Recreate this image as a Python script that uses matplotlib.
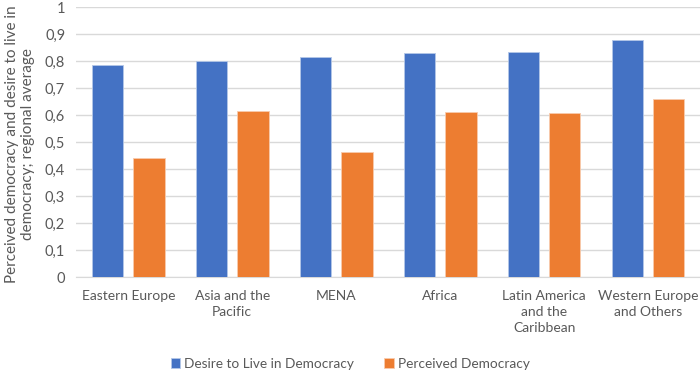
import numpy as np
import matplotlib
matplotlib.use('Agg')
import matplotlib.pyplot as plt
from matplotlib.ticker import FuncFormatter

categories = ['Eastern Europe', 'Asia and the\nPacific', 'MENA', 'Africa',
              'Latin America\nand the\nCaribbean', 'Western Europe\nand Others']
desire = [0.785, 0.801, 0.814, 0.829, 0.833, 0.877]
perceived = [0.443, 0.616, 0.464, 0.612, 0.608, 0.661]

plt.rcParams['font.family'] = ['Lato', 'DejaVu Sans']
grey = '#595959'

fig = plt.figure(figsize=(7, 3.74), dpi=100)
ax = fig.add_axes([0.109, 0.259, 0.891, 0.722])

x = np.arange(len(categories))
w = 0.3
ax.bar(x - 0.2, desire, w, color='#4472c4', edgecolor='#b4c7e7', linewidth=0.6,
       label='Desire to Live in Democracy', zorder=3)
ax.bar(x + 0.2, perceived, w, color='#ed7d31', edgecolor='#f8cbad', linewidth=0.6,
       label='Perceived Democracy', zorder=3)

ax.set_xlim(-0.5, len(categories) - 0.5)
ax.set_ylim(0, 1)
ax.set_yticks(np.arange(0, 1.01, 0.1))
ax.yaxis.set_major_formatter(FuncFormatter(lambda v, p: ('%.1f' % v).replace('.', ',') if 0 < v < 1 else '%d' % round(v)))
ax.grid(axis='y', color='#d9d9d9', linewidth=1, zorder=0)
ax.set_xticks(x)
ax.set_xticklabels(categories, color=grey, fontsize=10, linespacing=1.4)
ax.tick_params(axis='y', colors=grey, labelsize=10.5, length=0, pad=8)
ax.tick_params(axis='x', length=0, pad=9)
for s in ['top', 'right', 'left']:
    ax.spines[s].set_visible(False)
ax.spines['bottom'].set_color('#d9d9d9')

# y label placed by hand so both lines fit at the left edge
fig.text(0.029, 0.615, 'Perceived democracy and desire to live in\ndemocracy; regional average',
         rotation=90, ha='center', va='center', color=grey, fontsize=11,
         linespacing=1.2)

fig.legend(loc='center', bbox_to_anchor=(0.5, 0.027), ncol=2, frameon=False,
           fontsize=9.8, labelcolor=grey, handlelength=0.7, handleheight=0.7,
           handletextpad=0.3, columnspacing=2.2)

fig.savefig('out.png', dpi=100)
